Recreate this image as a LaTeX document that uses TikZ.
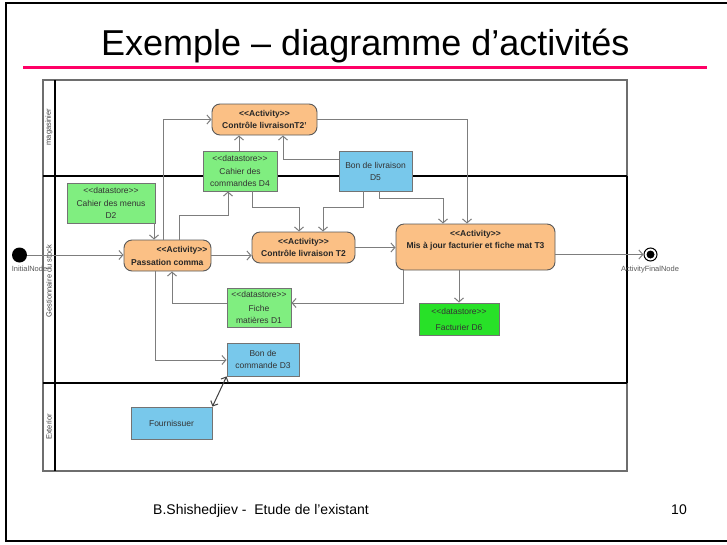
\documentclass[tikz,border=0pt]{standalone}
\usepackage{fontspec}
\setmainfont{Liberation Sans}
\usetikzlibrary{arrows.meta}
\definecolor{actfill}{RGB}{251,192,133}
\definecolor{dsfill}{RGB}{128,238,128}
\definecolor{dsbright}{RGB}{40,225,40}
\definecolor{objfill}{RGB}{120,200,235}
\definecolor{pinkline}{RGB}{255,0,102}
\definecolor{connc}{RGB}{125,125,125}
\definecolor{framec}{RGB}{110,110,110}
\begin{document}
\begin{tikzpicture}[x=1pt,y=-1pt,
  act/.style={draw=black!65, fill=actfill, rounded corners=8pt, line width=0.9pt, inner sep=0, align=center, font=\fontsize{8.5}{12}\selectfont\bfseries, text=black!85},
  acttxt/.style={inner sep=0, font=\fontsize{8.5}{12}\selectfont\bfseries, text=black!85},
  ds/.style={draw=black!55, fill=dsfill, line width=0.9pt, inner sep=0, align=center, font=\fontsize{8.5}{12}\selectfont, text=black!80},
  obj/.style={draw=black!55, fill=objfill, line width=0.9pt, inner sep=0, align=center, font=\fontsize{8.5}{12}\selectfont, text=black!80},
  lanelbl/.style={inner sep=0, rotate=90, font=\fontsize{7.5}{9}\selectfont, text=black!75},
  smalllbl/.style={inner sep=0, font=\fontsize{7.5}{9}\selectfont, text=black!65},
  conn/.style={draw=connc, line width=1pt, -{Straight Barb[length=4pt,width=9pt]}},
  dconn/.style={draw=black!75, line width=1pt, {Straight Barb[length=4pt,width=8pt]}-{Straight Barb[length=4pt,width=8pt]}},
  laneline/.style={draw=black, line width=1.6pt}
]
\useasboundingbox (0,0) rectangle (727,544);
\fill[white] (0,0) rectangle (727,544);
% slide border
\draw[black, line width=2pt] (6,3) rectangle (729,541);
% title
\node[anchor=base west, inner sep=0, font=\fontsize{36}{40}\selectfont] (title) at (101,55) {Exemple – diagramme d’activités};
\draw[pinkline, line width=3pt] (23,67) -- (707,67);
% footer
\node[anchor=base west, inner sep=0, font=\fontsize{14}{16}\selectfont] (foot) at (153,514) {B.Shishedjiev -\ \ Etude de l'existant};
\node[anchor=base east, inner sep=0, font=\fontsize{14}{16}\selectfont] (pagenum) at (687,514) {10};
% pool frame and lanes
\draw[framec, line width=1.5pt] (43,80) rectangle (627,471);
\draw[laneline] (55,80) -- (55,471);
\draw[laneline] (43,176) -- (627,176);
\draw[laneline] (43,383) -- (627,383);
\draw[laneline] (627,176) -- (627,383);
\node[lanelbl] (lmag) at (49,127) {magasinier};
\node[lanelbl] (lgest) at (49,281) {Gestionnaire du stock};
\node[lanelbl] (lext) at (49,427) {Exterior};
% initial / final nodes
\node[circle, fill=black, minimum size=15, inner sep=0] (init) at (19.5,255) {};
\node[smalllbl] (initlbl) at (29.5,269) {InitialNode};
\node[circle, draw=black, line width=1pt, fill=white, minimum size=13, inner sep=0] (fin) at (650.5,254.5) {};
\node[circle, fill=black, minimum size=8, inner sep=0] (finin) at (fin) {};
\node[smalllbl] (finlbl) at (650,270) {ActivityFinalNode};
% activities
\node[act, minimum width=87, minimum height=31] (pass) at (167.5,255.5) {};
\node[acttxt] (passa) at (182,250.5) {<{}<Activity>{}>};
\node[acttxt, anchor=west] (passb) at (131,262.5) {Passation comma};
\node[act, minimum width=105, minimum height=31] (t2p) at (264.5,119.5) {<{}<Activity>{}>\\Contrôle livraisonT2'};
\node[act, minimum width=103, minimum height=31] (t2) at (303.5,247.5) {<{}<Activity>{}>\\Contrôle livraison T2};
\node[act, minimum width=159, minimum height=46] (t3) at (475.5,247) {};
\node[acttxt, align=center] (t3txt) at (475.5,240.5) {<{}<Activity>{}>\\Mis à jour facturier et fiche mat T3};
% datastores
\node[ds, minimum width=88, minimum height=40] (d2) at (111,203) {<{}<datastore>{}>\\[1.5pt]Cahier des menus\\D2};
\node[ds, minimum width=74, minimum height=40] (d4) at (240,171) {<{}<datastore>{}>\\[1.5pt]Cahier des\\commandes D4};
\node[ds, minimum width=64, minimum height=39] (d1) at (259,307.5) {<{}<datastore>{}>\\[1.5pt]Fiche\\matières D1};
\node[ds, fill=dsbright, minimum width=80, minimum height=32] (d6) at (459,319) {<{}<datastore>{}>\\[4pt]Facturier D6};
% objects
\node[obj, minimum width=73, minimum height=40] (d5) at (375.5,171) {Bon de livraison\\D5};
\node[obj, minimum width=72, minimum height=33] (d3) at (263,359.5) {Bon de\\commande D3};
\node[obj, minimum width=81, minimum height=32] (four) at (171.5,423) {Fournissuer};
% connectors
\draw[conn] (init.east) -- (init.east -| pass.west);
\draw[conn] (d2.south -| 154,0) -- (pass.north -| 154,0);
\draw[conn] (pass.north -| 163,0) |- (t2p.west);
\draw[conn] (pass.north -| 179,0) |- (228,215) -- (d4.south -| 228,0);
\draw[conn] (d4.north -| 239,0) -- (t2p.south -| 239,0);
\draw[conn] (d5.west |- 0,159) -| (t2p.south -| 283,0);
\draw[conn] (t2p.east) -| (t3.north -| 467,0);
\draw[conn] (d5.south -| 379,0) |- (443,198) -- (t3.north -| 443,0);
\draw[conn] (d4.south -| 252,0) |- (299,207) -- (t2.north -| 299,0);
\draw[conn] (d5.south -| 363,0) |- (323,207) -- (t2.north -| 323,0);
\draw[conn] (pass.east) -- (pass.east -| t2.west);
\draw[conn] (t2.east) -- (t2.east -| t3.west);
\draw[conn] (t3.south -| 403,0) |- (d1.east |- 0,303);
\draw[conn] (t3.south -| 459,0) -- (d6.north);
\draw[conn] (t3.east |- fin) -- (fin.west);
\draw[conn] (d1.west |- 0,303) -| (pass.south -| 172,0);
\draw[conn] (pass.south -| 155,0) |- (d3.west |- 0,360);
\draw[dconn] (d3.south west) -- (four.north east);
\end{tikzpicture}
\end{document}
